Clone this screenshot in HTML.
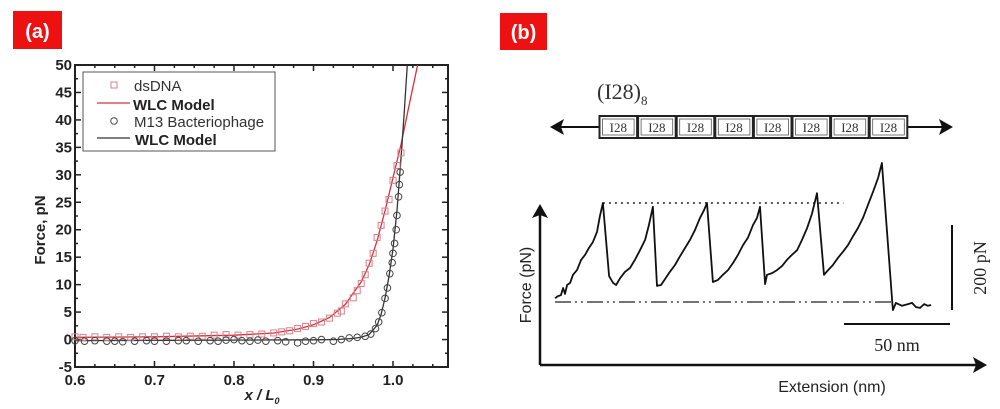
<!DOCTYPE html>
<html><head><meta charset="utf-8"><style>
html,body{margin:0;padding:0;background:#fff;width:1000px;height:409px;overflow:hidden}
svg{display:block}
.lbl{font-family:"Liberation Sans",sans-serif;font-weight:bold}
.ser{font-family:"Liberation Serif",serif}
</style></head><body>
<svg id="fig" width="1000" height="409" viewBox="0 0 1000 409" xmlns="http://www.w3.org/2000/svg">
<g>
<rect x="13" y="11" width="49" height="38" fill="#ee1111"/>
<text x="37.5" y="38" text-anchor="middle" class="lbl" font-size="20" fill="#fff">(a)</text></g>
<g>
<rect x="500" y="13" width="47" height="37" fill="#ee1111"/>
<text x="523.5" y="39" text-anchor="middle" class="lbl" font-size="20" fill="#fff">(b)</text></g>
<g id="pa"></g>
<g id="pb"></g>
</svg>
<script>
// ---- Panel (a) data ----
const dsX=[0.6,0.61,0.625,0.64,0.655,0.67,0.685,0.7,0.715,0.73,0.745,0.76,0.775,0.79,0.805,0.82,0.835,0.85,0.86,0.87,0.88,0.89,0.9,0.91,0.92,0.93,0.935,0.94,0.95,0.955,0.96,0.965,0.97,0.975,0.98,0.985,0.99,0.995,1.0,1.005,1.01];
const dsY=[0.5,0.4,0.5,0.4,0.5,0.4,0.5,0.5,0.6,0.5,0.6,0.6,0.8,0.9,0.8,0.9,1.0,1.2,1.4,1.6,2.0,2.4,2.9,3.2,3.9,4.8,5.2,6.5,7.6,8.9,10.2,11.8,13.9,15.7,18.6,20.8,23.4,25.5,29.0,31.7,34.0];
const m13X=[0.6,0.612,0.625,0.64,0.65,0.66,0.675,0.69,0.7,0.715,0.73,0.74,0.755,0.77,0.78,0.79,0.8,0.81,0.82,0.83,0.84,0.855,0.865,0.88,0.89,0.9,0.91,0.925,0.935,0.945,0.955,0.965,0.972,0.978,0.982,0.986,0.99,0.993,0.996,0.999,1.0,1.002,1.004,1.005,1.007,1.008,1.009];
const m13Y=[-0.2,-0.3,-0.2,-0.3,-0.3,-0.4,-0.3,-0.2,-0.3,-0.3,-0.2,-0.2,-0.3,-0.2,-0.3,-0.1,0.0,-0.2,-0.3,-0.1,-0.3,-0.2,-0.4,-0.6,-0.3,-0.2,0.0,-0.3,0.0,0.3,0.4,0.6,1.0,2.0,3.2,4.9,7.5,9.4,12.0,14.0,15.7,17.5,20.0,22.6,26.0,28.2,30.5];
const redModelX=[0.6,0.7,0.8,0.85,0.88,0.9,0.92,0.94,0.96,0.97,0.98,0.99,1.0,1.01,1.02,1.031];
const redModelY=[0.4,0.5,0.8,1.2,1.9,2.7,4.0,6.4,10.5,13.6,18.0,23.5,29.5,35.5,42.5,50];
const blkModelX=[0.6,0.8,0.9,0.93,0.95,0.96,0.97,0.98,0.985,0.99,0.995,1.0,1.005,1.01,1.014,1.018];
const blkModelY=[-0.2,-0.1,-0.05,0.0,0.2,0.4,0.9,2.6,4.6,7.6,11.5,16.5,23.5,33.0,41.0,50];
const aXTicks=["0.6","0.7","0.8","0.9","1.0"];
const aYTicks=["-5","0","5","10","15","20","25","30","35","40","45","50"];
// ---- Panel (b) data (nm, pN) ----
const extNm=[0,1.4,2.8,3.8,4.7,5.7,7.1,8.5,10.4,12.3,14.2,16.0,17.9,19.8,21.2,22.6,25.5,27.4,28.8,30.7,33.0,35.4,37.7,40.1,42.5,44.3,46.2,48.1,50.0,51.9,54.2,56.6,59.0,61.3,63.7,66.0,68.4,70.3,71.7,74.5,76.9,79.2,81.6,84.0,86.3,88.7,91.0,93.4,95.3,96.7,99.1,100,102.4,104.7,107.1,109.4,111.8,114.2,116.5,118.9,121.2,123.6,126.9,128.8,131.1,133.5,135.8,138.2,140.6,142.9,145.3,147.6,150,152.4,154.2,159,159.4,160.8,163.7,166.5,168.4,170.3,172.2,174.1,175.9,177.4];
const forcePN=[9,14,16,33,19,40,45,64,75,99,111,127,141,165,202,233,61,45,40,56,71,80,99,122,146,181,224,38,40,54,71,87,108,127,146,169,198,216,233,47,52,64,75,92,111,134,151,181,198,224,42,64,68,75,85,99,111,122,146,174,207,256,64,75,87,104,118,134,155,174,198,228,259,292,327,5,-19,-2,-9,-5,-2,-12,-14,-5,-9,-7];
const plateauPN=[233];
const moduleLabels=["I28","I28","I28","I28","I28","I28","I28","I28"];

const NS="http://www.w3.org/2000/svg";
function mk(parent,tag,attrs,txt){const e=document.createElementNS(NS,tag);for(const k in attrs)e.setAttribute(k,attrs[k]);if(txt!==undefined)e.textContent=txt;parent.appendChild(e);return e;}
// Panel a
const pa=document.getElementById('pa');
const L=75,R=448,T=65,B=367;
const ax=v=>L+(v-0.6)*795;
const ay=v=>B-(v+5)*(B-T)/55;
let e;
e=mk(pa,'rect',{x:L,y:T,width:R-L,height:B-T,fill:'none',stroke:'#222','stroke-width':2});


for(let v=0.6;v<=1.07;v+=0.025){const x=ax(v);const major=Math.abs((v*10)-Math.round(v*10))<0.01;const len=major?6:3;
 mk(pa,'line',{x1:x,y1:B,x2:x,y2:B-len,stroke:'#222','stroke-width':1.5});
 mk(pa,'line',{x1:x,y1:T,x2:x,y2:T+len,stroke:'#222','stroke-width':1.5});}
for(let v=-5;v<=50;v+=2.5){const y=ay(v);const major=Math.abs(v%5)<0.01;const len=major?6:3;
 mk(pa,'line',{x1:L,y1:y,x2:L+len,y2:y,stroke:'#222','stroke-width':1.5});
 mk(pa,'line',{x1:R,y1:y,x2:R-len,y2:y,stroke:'#222','stroke-width':1.5});}
aXTicks.forEach(t=>{e=mk(pa,'text',{x:ax(parseFloat(t)),y:B+18,'text-anchor':'middle','font-size':15,class:'lbl',fill:'#222'},t);
 
 });
aYTicks.forEach(t=>{e=mk(pa,'text',{x:L-3,y:ay(parseFloat(t))+5,'text-anchor':'end','font-size':15,class:'lbl',fill:'#222'},t);
 
 });
e=mk(pa,'text',{x:262,y:400,'text-anchor':'middle','font-size':15,class:'lbl','font-style':'italic',fill:'#222'});
e.innerHTML='x / L<tspan font-size="9" dy="4">0</tspan>';


e=mk(pa,'text',{x:0,y:0,transform:'translate(45,230) rotate(-90)','text-anchor':'middle','font-size':15,class:'lbl',fill:'#222'},'Force, pN');


const clip=mk(pa,'clipPath',{id:'ca'});mk(clip,'rect',{x:L,y:T,width:R-L,height:B-T});
const pts=(X,Y)=>X.map((x,i)=>ax(x).toFixed(1)+','+ay(Y[i]).toFixed(1)).join(' ');
e=mk(pa,'polyline',{points:pts(redModelX,redModelY),fill:'none',stroke:'#d6303c','stroke-width':1.3,'clip-path':'url(#ca)'});


e=mk(pa,'polyline',{points:pts(blkModelX,blkModelY),fill:'none',stroke:'#333','stroke-width':1.3,'clip-path':'url(#ca)'});


dsX.forEach((x,i)=>{e=mk(pa,'rect',{x:ax(x)-3,y:ay(dsY[i])-3,width:6,height:6,fill:'none',stroke:'#d98088','stroke-width':1});
 
 });
m13X.forEach((x,i)=>{e=mk(pa,'circle',{cx:ax(x),cy:ay(m13Y[i]),r:3.3,fill:'none',stroke:'#444','stroke-width':1});
 
 });
const lg=mk(pa,'g',{});


mk(lg,'rect',{x:83,y:72,width:192,height:79,fill:'#fff',stroke:'#555','stroke-width':1});
mk(lg,'rect',{x:111,y:82,width:6,height:6,fill:'none',stroke:'#d98088'});
mk(lg,'text',{x:134,y:91,'font-size':15,'font-family':'Liberation Sans',fill:'#333'},'dsDNA');
mk(lg,'line',{x1:97,y1:103,x2:130,y2:103,stroke:'#d6303c','stroke-width':1.3});
mk(lg,'text',{x:133,y:110,'font-size':15,class:'lbl',fill:'#222'},'WLC Model');
mk(lg,'circle',{cx:114,cy:121,r:3.3,fill:'none',stroke:'#444'});
mk(lg,'text',{x:134,y:127,'font-size':15,'font-family':'Liberation Sans',fill:'#333'},'M13 Bacteriophage');
mk(lg,'line',{x1:97,y1:138,x2:130,y2:138,stroke:'#333','stroke-width':1.3});
mk(lg,'text',{x:135,y:145,'font-size':15,class:'lbl',fill:'#222'},'WLC Model');

// Panel b
const pb=document.getElementById('pb');
const x0=555,y0=302,sx=2.12,sy=0.425;
const bx=v=>x0+v*sx, by=v=>y0-v*sy;
e=mk(pb,'text',{x:597,y:99,'font-size':22,class:'ser',fill:'#333'});
e.innerHTML='(I28)<tspan font-size="13" dy="6">8</tspan>';


const bw=38.6,bl=599,bt=116,bh=22;
e=mk(pb,'line',{x1:557,y1:127,x2:bl,y2:127,stroke:'#111','stroke-width':2});


mk(pb,'polygon',{points:'550,127 564,119 561,127 564,135',fill:'#111'});
e=mk(pb,'line',{x1:bl+bw*8,y1:127,x2:946,y2:127,stroke:'#111','stroke-width':2});


mk(pb,'polygon',{points:'953,127 939,119 942,127 939,135',fill:'#111'});
moduleLabels.forEach((m,i)=>{const g=mk(pb,'g',{});
 
 
 mk(g,'rect',{x:bl+i*bw+0.5,y:bt,width:bw-1,height:bh,fill:'#fff',stroke:'#222','stroke-width':2});
 mk(g,'rect',{x:bl+i*bw+3.5,y:bt+3,width:bw-7,height:bh-6,fill:'none',stroke:'#555','stroke-width':0.8});
 mk(g,'text',{x:bl+i*bw+bw/2,y:bt+16,'text-anchor':'middle','font-size':13,class:'ser',fill:'#333'},m);});
e=mk(pb,'line',{x1:540,y1:365,x2:978,y2:365,stroke:'#111','stroke-width':2.5});


mk(pb,'polygon',{points:'987,365 973,357 976,365 973,373',fill:'#111'});
e=mk(pb,'line',{x1:540,y1:365,x2:540,y2:213,stroke:'#111','stroke-width':2.5});


mk(pb,'polygon',{points:'540,204 532,218 540,215 548,218',fill:'#111'});
e=mk(pb,'text',{x:832,y:392,'text-anchor':'middle','font-size':16,'font-family':'Liberation Sans',fill:'#222'},'Extension (nm)');


e=mk(pb,'text',{x:0,y:0,transform:'translate(531,285) rotate(-90)','text-anchor':'middle','font-size':16,'font-family':'Liberation Sans',fill:'#222'},'Force (pN)');


e=mk(pb,'line',{x1:bx(extNm[15]),y1:by(plateauPN[0]),x2:bx(136),y2:by(plateauPN[0]),stroke:'#222','stroke-width':1.5,'stroke-dasharray':'2,4'});


e=mk(pb,'line',{x1:bx(0),y1:by(0),x2:bx(159),y2:by(0),stroke:'#222','stroke-width':1.3,'stroke-dasharray':'16,4,2,4,2,4'});


e=mk(pb,'polyline',{points:extNm.map((x,i)=>bx(x).toFixed(1)+','+by(forcePN[i]).toFixed(1)).join(' '),fill:'none',stroke:'#111','stroke-width':1.8,'stroke-linejoin':'round'});


e=mk(pb,'line',{x1:952,y1:310,x2:952,y2:310-200*sy,stroke:'#111','stroke-width':2});


e=mk(pb,'text',{x:0,y:0,transform:'translate(986,268) rotate(-90)','text-anchor':'middle','font-size':18,class:'ser',fill:'#222'},'200 pN');


e=mk(pb,'line',{x1:844,y1:324,x2:844+50*sx,y2:324,stroke:'#111','stroke-width':2});


e=mk(pb,'text',{x:897,y:351,'text-anchor':'middle','font-size':18,class:'ser',fill:'#222'},'50 nm');


</script>
</body></html>
